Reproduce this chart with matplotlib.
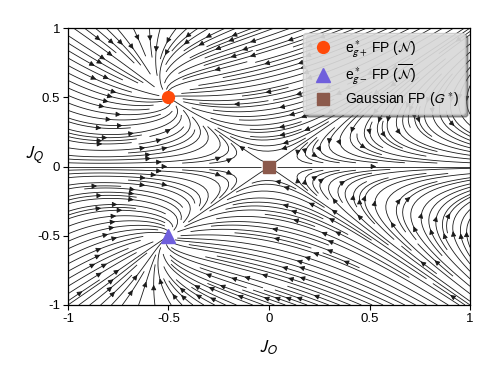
import numpy as np
import matplotlib
matplotlib.use("Agg")
import matplotlib.pyplot as plt

plt.rcParams["font.family"] = ["Liberation Sans", "DejaVu Sans"]
plt.rcParams["mathtext.fontset"] = "stixsans"

# Points fixes (J_O, J_Q)
fp_labels = [r"e$^*_{g+}$ FP ($\mathcal{N}$)",
             r"e$^*_{g-}$ FP ($\overline{\mathcal{N}}$)",
             r"Gaussian FP ($G^*$)"]
fp_JO = [-0.5, -0.5, 0.0]
fp_JQ = [0.5, -0.5, 0.0]
fp_markers = ["o", "^", "s"]
fp_colors = ["#ff4a0a", "#6f5fdc", "#8c5a4c"]

# flot RG : beta_O = a JO^2 + b JQ^2 + d1 JO^3 + d2 JO JQ^2
#           beta_Q = c JO JQ + e1 JO^2 JQ + e2 JQ^3
coef_O = [1.0, -3.0, 0.8, -4.8]
coef_Q = [-2.0, -2.4, -1.6]

ticks = [-1, -0.5, 0, 0.5, 1]
tick_labels = ["-1", "-0.5", "0", "0.5", "1"]

grille = np.linspace(-1, 1, 241)
JO, JQ = np.meshgrid(grille, grille)
a, b, d1, d2 = coef_O
c, e1, e2 = coef_Q
U = a * JO**2 + b * JQ**2 + d1 * JO**3 + d2 * JO * JQ**2
V = c * JO * JQ + e1 * JO**2 * JQ + e2 * JQ**3

fig = plt.figure(figsize=(4.98, 3.74), dpi=100)
ax = fig.add_axes([0.1365, 0.1845, 0.8073, 0.7406])

ax.streamplot(JO, JQ, U, V, density=2.5, color="#1a1a1a", linewidth=0.6,
              arrowsize=0.75, arrowstyle="-|>")

tailles = [8.5, 9.5, 8.5]
for x, y, m, col, lab, t in zip(fp_JO, fp_JQ, fp_markers, fp_colors, fp_labels, tailles):
    ax.plot(x, y, m, color=col, markersize=t, linestyle="none",
            label=lab, zorder=5, clip_on=False)

ax.set_xlim(-1, 1)
ax.set_ylim(-1, 1)
ax.set_xticks(ticks)
ax.set_xticklabels(tick_labels)
ax.set_yticks(ticks)
ax.set_yticklabels(tick_labels)
ax.tick_params(direction="out", length=3.5, width=0.8, labelsize=9.5, pad=2)
for s in ax.spines.values():
    s.set_linewidth(0.9)

ax.set_xlabel(r"$J_O$", fontsize=13)
ax.set_ylabel(r"$J_Q$", fontsize=13, rotation=0, va="center", ha="center")
ax.xaxis.set_label_coords(0.5, -0.12)
ax.yaxis.set_label_coords(-0.083, 0.54)

leg = ax.legend(loc="upper right", fontsize=10, frameon=True, shadow=True,
                facecolor="#e6e6e6", edgecolor="#c8c8c8", framealpha=0.85,
                borderaxespad=0.35, labelspacing=0.22, handletextpad=0.6,
                borderpad=0.4, fancybox=True, numpoints=1)

fig.savefig("out.png", dpi=100)
